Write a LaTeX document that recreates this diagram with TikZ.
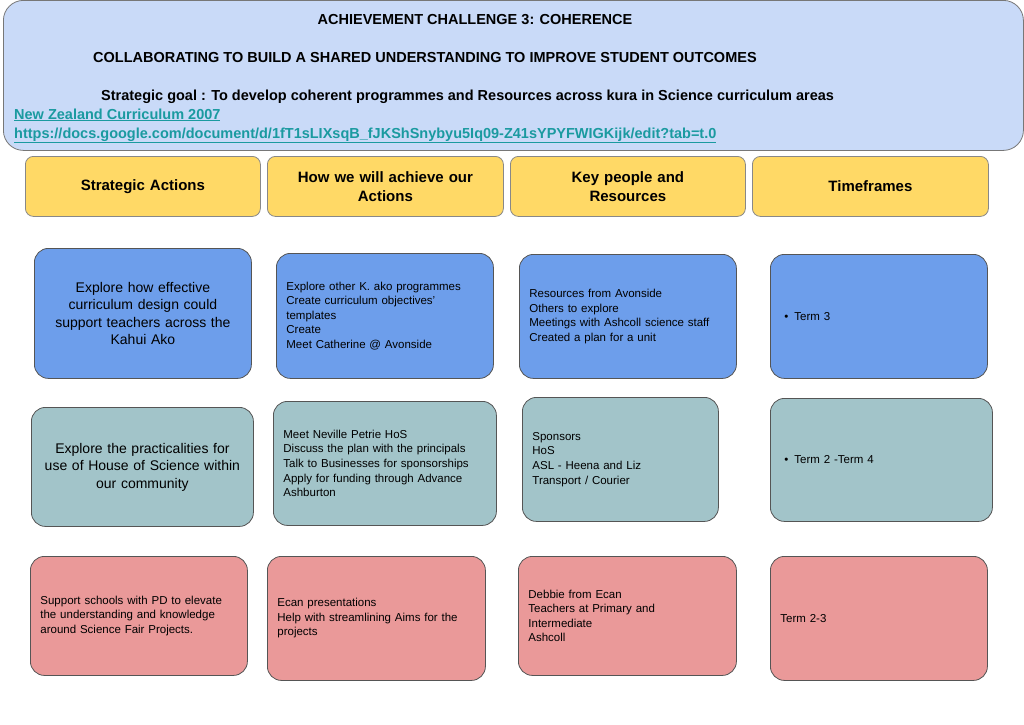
\documentclass[tikz,border=0pt]{standalone}
\usepackage{fontspec}
\setmainfont{Liberation Sans}
\definecolor{hdr}{HTML}{C9DAF8}
\definecolor{yel}{HTML}{FFD966}
\definecolor{blu}{HTML}{6D9EEB}
\definecolor{tea}{HTML}{A2C4C9}
\definecolor{red}{HTML}{EA9999}
\definecolor{lnk}{HTML}{1A9AA0}
\definecolor{edge}{HTML}{555555}
\begin{document}
\begin{tikzpicture}[x=1pt,y=1pt,
  bx/.style={draw=edge,line width=0.8pt,rounded corners=14pt,anchor=north west,inner xsep=10pt,inner ysep=4pt},
  big/.style={bx,align=center,font=\fontsize{14}{17.5}\selectfont},
  sml/.style={bx,align=left,font=\fontsize{11.5}{14.6}\selectfont},
  hd/.style={bx,draw=edge!70,fill=yel,rounded corners=8pt,align=center,font=\fontsize{15}{19}\selectfont\bfseries},
  ttl/.style={font=\fontsize{14.5}{17}\selectfont\bfseries,inner sep=0pt},
  lk/.style={font=\fontsize{14.5}{17}\selectfont\bfseries,text=lnk,inner sep=0pt,anchor=base west}]
\useasboundingbox (0,0) rectangle (1024,-724);
\node[bx,draw=edge!80,fill=hdr,rounded corners=20pt,minimum width=1020pt,minimum height=150pt] (hdr) at (3,0) {};
\node[ttl,anchor=base] (t1) at (475,-24) {ACHIEVEMENT CHALLENGE 3: COHERENCE};
\node[ttl,anchor=base west] (t2) at (93,-62) {COLLABORATING TO BUILD A SHARED UNDERSTANDING TO IMPROVE STUDENT OUTCOMES};
\node[ttl,anchor=base west] (t3) at (101,-100) {Strategic goal : To develop coherent programmes and Resources across kura in Science curriculum areas};
\node[lk] (l1) at (14,-119) {\underline{New Zealand Curriculum 2007}};
\node[lk] (l2) at (14,-138) {\underline{https://docs.google.com/document/d/1fT1sLIXsqB\_fJKShSnybyu5Iq09-Z41sYPYFWIGKijk/edit?tab=t.0}};
% headings
\node[hd,minimum width=235pt,minimum height=60pt,text width=215pt] (h1) at (25,-156) {Strategic Actions};
\node[hd,minimum width=236pt,minimum height=60pt,text width=216pt] (h2) at (267,-156) {How we will achieve our\\Actions};
\node[hd,minimum width=235pt,minimum height=60pt,text width=215pt] (h3) at (510,-156) {Key people and\\Resources};
\node[hd,minimum width=236pt,minimum height=60pt,text width=216pt] (h4) at (752,-156) {Timeframes};
% row 1
\node[big,fill=blu,minimum width=217pt,minimum height=130pt,text width=197pt] (a1) at (34,-248) {Explore how effective\\curriculum design could\\support teachers across the\\Kahui Ako};
\node[sml,fill=blu,minimum width=217pt,minimum height=125pt,text width=197pt] (b1) at (276,-253) {Explore other K. ako programmes\\Create curriculum objectives’\\templates\\Create\\Meet Catherine @ Avonside\\[10pt]};
\node[sml,fill=blu,minimum width=217pt,minimum height=124pt,text width=197pt] (c1) at (519,-254) {Resources from Avonside\\Others to explore\\Meetings with Ashcoll science staff\\Created a plan for a unit};
\node[sml,fill=blu,minimum width=217pt,minimum height=124pt,text width=197pt] (d1) at (770,-254) {\hspace*{4pt}\textbullet\hspace{6pt}Term 3};
% row 2
\node[big,fill=tea,minimum width=222pt,minimum height=119pt,text width=202pt] (a2) at (31,-407) {Explore the practicalities for\\use of House of Science within\\our community};
\node[sml,fill=tea,minimum width=223pt,minimum height=124pt,text width=203pt] (b2) at (273,-401) {Meet Neville Petrie HoS\\Discuss the plan with the principals\\Talk to Businesses for sponsorships\\Apply for funding through Advance\\Ashburton};
\node[sml,fill=tea,minimum width=196pt,minimum height=124pt,text width=176pt] (c2) at (522,-397) {Sponsors\\HoS\\ASL - Heena and Liz\\Transport / Courier\\[14pt]};
\node[sml,fill=tea,minimum width=222pt,minimum height=123pt,text width=202pt] (d2) at (770,-398) {\hspace*{4pt}\textbullet\hspace{6pt}Term 2 -Term 4};
% row 3
\node[sml,fill=red,minimum width=217pt,minimum height=119pt,text width=197pt] (a3) at (30,-556) {Support schools with PD to elevate\\the understanding and knowledge\\around Science Fair Projects.};
\node[sml,fill=red,minimum width=218pt,minimum height=124pt,text width=198pt] (b3) at (267,-556) {Ecan presentations\\Help with streamlining Aims for the\\projects};
\node[sml,fill=red,minimum width=218pt,minimum height=119pt,text width=198pt] (c3) at (518,-556) {Debbie from Ecan\\Teachers at Primary and\\Intermediate\\Ashcoll};
\node[sml,fill=red,minimum width=217pt,minimum height=124pt,text width=197pt] (d3) at (770,-556) {Term 2-3};
\end{tikzpicture}
\end{document}
